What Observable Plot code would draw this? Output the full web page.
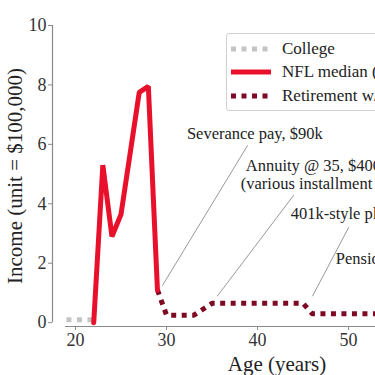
<!DOCTYPE html>
<html>
<head>
<meta charset="utf-8">
<script src="https://cdn.jsdelivr.net/npm/d3@7"></script>
<script src="https://cdn.jsdelivr.net/npm/@observablehq/plot@0.6"></script>
<style>
  html, body { margin: 0; padding: 0; overflow: hidden; background: #fff; width: 375px; height: 375px; }
  #wrap { position: relative; width: 375px; height: 375px; overflow: hidden; font-family: "Liberation Serif", "DejaVu Serif", serif; }
  #wrap > svg { max-width: none !important; position: absolute; left: 0; top: 0; }
  #legend { position: absolute; left: 226px; top: 33px; width: 230px; height: 78px; border: 1px solid #cfcfcf; border-radius: 3px; background: rgba(255,255,255,0.9); box-sizing: border-box; }
  .row { position: absolute; left: 3px; height: 20px; display: flex; align-items: center; font-size: 17px; color: #222; white-space: nowrap; }
  .row svg { margin-right: 10px; }
</style>
</head>
<body>
<div id="wrap"></div>
<script>
// ---- data ----
const collegeAge = [19, 20, 21, 22];
const collegeIncome = [0.1, 0.1, 0.1, 0.1];

const nflAge = [22, 23, 24, 25, 26, 27, 28, 29];
const nflIncome = [0, 5.3, 2.9, 3.65, 5.7, 7.75, 7.95, 1.1];

const retireAge = [29, 30, 31, 32, 33, 34, 35, 36, 37, 38, 39, 40, 41, 42, 43, 44, 45, 46, 47, 48, 49, 50, 51, 52, 53, 54];
const retireIncome = [1.1, 0.25, 0.25, 0.25, 0.25, 0.45, 0.65, 0.65, 0.65, 0.65, 0.65, 0.65, 0.65, 0.65, 0.65, 0.65, 0.65, 0.3, 0.3, 0.3, 0.3, 0.3, 0.3, 0.3, 0.3, 0.3];

const seriesNames = ["College", "NFL median (3.3 yr career)", "Retirement w/ benefits"];
const seriesColors = ["#c4c4c4", "#e8102a", "#7d0a22"];

const xTicks = [20, 30, 40, 50, 60];
const yTicks = [0, 2, 4, 6, 8, 10];

// annotation texts (left or centered) and their anchor positions in data units
const noteText = ["Severance pay, $90k", "Annuity @ 35, $400k", "(various installment options)", "401k-style plan @ 45", "Pension @ 55"];
const noteAge = [39.7, 38.7, 38.15, 43.65, 48.6];
const noteIncome = [6.36, 5.29, 4.68, 3.67, 2.15];
const noteAnchor = ["middle", "start", "start", "start", "start"];

// arrows: from (age1, inc1) to (age2, inc2)
const arrowAge1 = [38.9, 43.95, 50.0];
const arrowInc1 = [5.96, 4.28, 3.2];
const arrowAge2 = [29.55, 35.6, 46.05];
const arrowInc2 = [1.25, 0.9, 0.9];
const arrowBend = [0, -20, -16];

const xDomain = [17.47, 66.8];
const xSpine = [18.9, 66.8];

// ---- build ----
const college = collegeAge.map((a, i) => ({age: a, v: collegeIncome[i]}));
const nfl = nflAge.map((a, i) => ({age: a, v: nflIncome[i]}));
const retire = retireAge.map((a, i) => ({age: a, v: retireIncome[i]}));
const notes = noteText.map((t, i) => ({t, age: noteAge[i], v: noteIncome[i], anchor: noteAnchor[i]}));
const arrows = arrowAge1.map((a, i) => ({x1: a, y1: arrowInc1[i], x2: arrowAge2[i], y2: arrowInc2[i], bend: arrowBend[i]}));

const font = "Liberation Serif, DejaVu Serif, serif";

const chart = Plot.plot({
  width: 521,
  height: 375,
  marginLeft: 52,
  marginRight: 20,
  marginTop: 25,
  marginBottom: 49,
  style: {fontFamily: font, background: "transparent", overflow: "visible", maxWidth: "none"},
  x: {domain: xDomain},
  y: {domain: [-0.13, 10]},
  marks: [
    // spines
    Plot.ruleX([xDomain[0]], {y1: 0, y2: 10, stroke: "#8a8a8a", strokeWidth: 1.2}),
    Plot.ruleY([-0.13], {x1: xSpine[0], x2: xSpine[1], stroke: "#8a8a8a", strokeWidth: 1.2}),
    Plot.axisY({ticks: yTicks, tickSize: 4, tickPadding: 2, fontSize: 18, color: "#333", stroke: "#8a8a8a",
      label: "Income (unit = $100,000)", labelAnchor: "center", labelArrow: "none", labelOffset: 45}),
    Plot.axisX({ticks: xTicks, tickSize: 4, tickPadding: 3, fontSize: 18, color: "#333", stroke: "#8a8a8a",
      label: "Age (years)", labelAnchor: "center", labelArrow: "none", labelOffset: 44}),
    Plot.line(college, {x: "age", y: "v", stroke: seriesColors[0], strokeWidth: 5, strokeDasharray: "5,5.5", strokeLinecap: "butt"}),
    Plot.line(retire, {x: "age", y: "v", stroke: seriesColors[2], strokeWidth: 5, strokeDasharray: "5,5.5", strokeLinecap: "butt"}),
    Plot.line(nfl, {x: "age", y: "v", stroke: seriesColors[1], strokeWidth: 5, strokeLinejoin: "miter"}),
    Plot.arrow(arrows, {x1: "x1", y1: "y1", x2: "x2", y2: "y2", bend: d => d.bend, stroke: "#999", strokeWidth: 1, headLength: 9}),
    Plot.text(notes.filter(d => d.anchor === "middle"), {x: "age", y: "v", text: "t", textAnchor: "middle", fontSize: 16.5, fill: "#222"}),
    Plot.text(notes.filter(d => d.anchor === "start"), {x: "age", y: "v", text: "t", textAnchor: "start", fontSize: 16.5, fill: "#222"})
  ]
});

const wrap = document.getElementById("wrap");
wrap.appendChild(chart);
chart.style.maxWidth = "none";
chart.querySelectorAll("g[aria-label='y-axis label'] text, g[aria-label='x-axis label'] text").forEach(t => {
  t.setAttribute("font-size", "21"); t.setAttribute("fill", "#222");
});

// legend
const legend = document.createElement("div");
legend.id = "legend";
const rowTops = [5, 28, 52];
seriesNames.forEach((name, i) => {
  const row = document.createElement("div");
  row.className = "row";
  row.style.top = rowTops[i] + "px";
  const dash = i === 1 ? "" : `stroke-dasharray="5,5.5"`;
  row.innerHTML = `<svg width="42" height="10"><line x1="1" x2="41" y1="5" y2="5" stroke="${seriesColors[i]}" stroke-width="5" ${dash}/></svg><span>${name}</span>`;
  legend.appendChild(row);
});
wrap.appendChild(legend);
</script>
</body>
</html>
